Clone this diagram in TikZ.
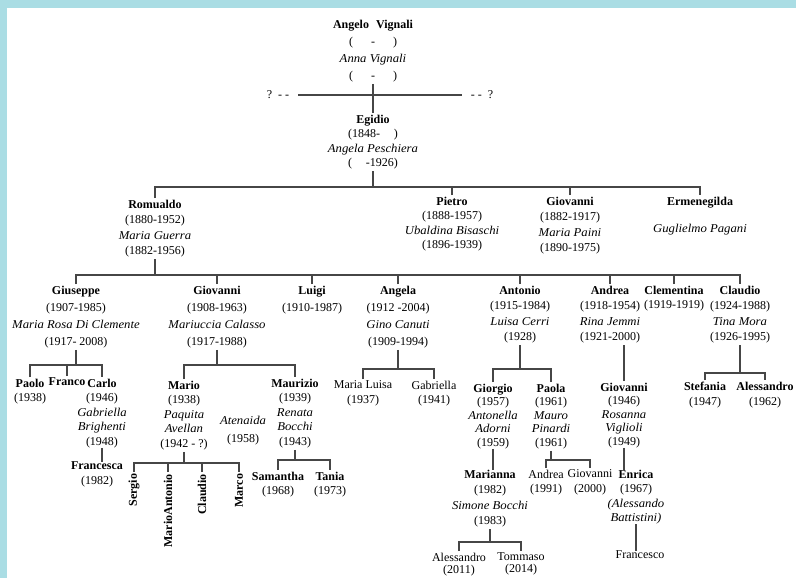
\documentclass[tikz,border=0pt]{standalone}
\usepackage{fontspec}
\setmainfont{Liberation Serif}
\newfontfamily\spousefont[FakeStretch=1.06]{Liberation Serif}
\definecolor{framebg}{RGB}{170,221,228}
\definecolor{treeline}{RGB}{70,70,70}
\newcommand{\nm}[1]{\textbf{#1}}
\newcommand{\spouse}[1]{{\spousefont\itshape #1}}
\tikzset{
  person/.style={align=center, anchor=north, inner sep=0pt, outer sep=2pt, font=\fontsize{12}{14.5}\selectfont},
  tall/.style={font=\fontsize{12}{17}\selectfont},
  mid/.style={font=\fontsize{12}{15.5}\selectfont},
  tight/.style={font=\fontsize{12}{13.5}\selectfont},
  upright/.style={rotate=90, anchor=east, inner sep=0pt, outer sep=2pt, font=\fontsize{12}{14}\selectfont\bfseries},
  unknown/.style={inner sep=0pt, outer sep=9pt, font=\fontsize{12}{14}\selectfont},
  tree/.style={draw=treeline, line width=1.3pt},
  link/.style={tree, shorten <=-2pt, shorten >=-2pt},
}
\begin{document}
\begin{tikzpicture}[x=1pt, y=-1pt]
    \useasboundingbox (0,0) rectangle (796,578);
    % Frame
    \fill[framebg] (0,0) rectangle (796,8);
    \fill[framebg] (0,0) rectangle (7,578);

    % First couple
    \node[person, tall] (vignali) at (373,18) {\nm{Angelo\hspace{7pt}Vignali}\\(\hspace{18pt}-\hspace{18pt})\\\spouse{Anna Vignali}\\(\hspace{18pt}-\hspace{18pt})};
    \node[unknown] (qleft) at (278,95) {?\ \ -\ -};
    \node[unknown] (qright) at (482,95) {-\ -\ \ ?};
    \draw[tree] (qleft) -- (qright);

    % Egidio
    \node[person] (egidio) at (373,113) {\nm{Egidio}\\(1848-\hspace{14pt})\\\spouse{Angela Peschiera}\\(\hspace{14pt}-1926)};
    \draw[tree] (vignali.south) -- (egidio.north);
    \coordinate (egbus) at (373,187);
    \draw[tree] (egidio.south) -- (egbus);

    % Children of Egidio
    \node[person, mid] (romualdo) at (155,198) {\nm{Romualdo}\\(1880-1952)\\\spouse{Maria Guerra}\\(1882-1956)};
    \node[person] (pietro) at (452,195) {\nm{Pietro}\\(1888-1957)\\\spouse{Ubaldina Bisaschi}\\(1896-1939)};
    \node[person, mid] (giovanni1) at (570,195) {\nm{Giovanni}\\(1882-1917)\\\spouse{Maria Paini}\\(1890-1975)};
    \node[person] (ermenegilda) at (700,195) {\nm{Ermenegilda}\\[13pt]\spouse{Guglielmo Pagani}};
    \draw[tree] (romualdo.north) |- (egbus) -| (ermenegilda.north);
    \foreach \n in {pietro, giovanni1}
        \draw[tree] (\n.north) -- (\n.north |- egbus);

    % Children of Romualdo
    \coordinate (robus) at (155,275);
    \draw[tree] (romualdo.south) -- (robus);
    \node[person, tall] (giuseppe) at (76,284) {\nm{Giuseppe}\\(1907-1985)\\\spouse{Maria Rosa Di Clemente}\\(1917- 2008)};
    \node[person, tall] (giovanni2) at (217,284) {\nm{Giovanni}\\(1908-1963)\\\spouse{Mariuccia Calasso}\\(1917-1988)};
    \node[person, tall] (luigi) at (312,284) {\nm{Luigi}\\(1910-1987)};
    \node[person, tall] (angela) at (398,284) {\nm{Angela}\\(1912 -2004)\\\spouse{Gino Canuti}\\(1909-1994)};
    \node[person, mid] (antonio) at (520,284) {\nm{Antonio}\\(1915-1984)\\\spouse{Luisa Cerri}\\(1928)};
    \node[person, mid] (andrea) at (610,284) {\nm{Andrea}\\(1918-1954)\\\spouse{Rina Jemmi}\\(1921-2000)};
    \node[person] (clementina) at (674,284) {\nm{Clementina}\\(1919-1919)};
    \node[person, mid] (claudio) at (740,284) {\nm{Claudio}\\(1924-1988)\\\spouse{Tina Mora}\\(1926-1995)};
    \draw[tree] (giuseppe.north) |- (robus) -| (claudio.north);
    \foreach \n in {giovanni2, luigi, angela, antonio, andrea, clementina}
        \draw[tree] (\n.north) -- (\n.north |- robus);

    % Giuseppe
    \coordinate (gsbus) at (76,365);
    \draw[tree] (giuseppe.south) -- (gsbus);
    \node[person] (paolo) at (30,377) {\nm{Paolo}\\(1938)};
    \node[person] (franco) at (67,376) {\nm{Franco}};
    \node[person] (carlo) at (102,377) {\nm{Carlo}\\(1946)\\\spouse{Gabriella}\\\spouse{Brighenti}\\(1948)};
    \draw[tree] (paolo.north) |- (gsbus) -| (carlo.north);
    \draw[tree] (franco.north) -- (franco.north |- gsbus);
    \node[person] (francesca) at (97,460) {\nm{Francesca}\\(1982)};
    \draw[link] (carlo.south) -- (carlo.south |- francesca.north);

    % Giovanni
    \coordinate (gvbus) at (217,365);
    \draw[tree] (giovanni2.south) -- (gvbus);
    \node[person] (mario) at (184,379) {\nm{Mario}\\(1938)\\\spouse{Paquita}\\\spouse{Avellan}\\(1942 - ?)};
    \node[person] (atenaida) at (243,414) {\spouse{Atenaida}\\[4pt](1958)};
    \node[person] (maurizio) at (295,377) {\nm{Maurizio}\\(1939)\\\spouse{Renata}\\\spouse{Bocchi}\\(1943)};
    \draw[tree] (mario.north) |- (gvbus) -| (maurizio.north);

    % Mario
    \coordinate (mabus) at (184,463);
    \draw[tree] (mario.south) -- (mabus);
    \node[upright] (sergio) at (134,472) {Sergio};
    \node[upright] (marioantonio) at (168,472) {MarioAntonio};
    \node[upright] (claudio2) at (202,472) {Claudio};
    \node[upright] (marco) at (239,472) {Marco};
    \draw[tree] (sergio.east) |- (mabus) -| (marco.east);
    \foreach \n in {marioantonio, claudio2}
        \draw[tree] (\n.east) -- (\n.east |- mabus);

    % Maurizio
    \coordinate (mzbus) at (295,460);
    \draw[tree] (maurizio.south) -- (mzbus);
    \node[person] (samantha) at (278,470) {\nm{Samantha}\\(1968)};
    \node[person] (tania) at (330,470) {\nm{Tania}\\(1973)};
    \draw[tree] (samantha.north) |- (mzbus) -| (tania.north);

    % Angela
    \coordinate (anbus) at (398,369);
    \draw[tree] (angela.south) -- (anbus);
    \node[person] (marialuisa) at (363,379) {Maria Luisa\\(1937)};
    \node[person] (gabriella) at (434,379) {Gabriella\\(1941)};
    \draw[tree] (marialuisa.north) |- (anbus) -| (gabriella.north);

    % Antonio
    \coordinate (atbus) at (520,369);
    \draw[tree] (antonio.south) -- (atbus);
    \node[person, tight] (giorgio) at (493,382) {\nm{Giorgio}\\(1957)\\\spouse{Antonella}\\\spouse{Adorni}\\(1959)};
    \node[person, tight] (paola) at (551,382) {\nm{Paola}\\(1961)\\\spouse{Mauro}\\\spouse{Pinardi}\\(1961)};
    \draw[tree] (giorgio.north) |- (atbus) -| (paola.north);

    % Giorgio
    \node[person, mid] (marianna) at (490,468) {\nm{Marianna}\\(1982)\\\spouse{Simone Bocchi}\\(1983)};
    \draw[link] (giorgio.south) -- (giorgio.south |- marianna.north);
    \coordinate (mrbus) at (490,542);
    \draw[tree] (marianna.south) -- (mrbus);
    \node[person, font=\fontsize{12}{12}\selectfont] (alessandro1) at (459,551) {Alessandro\\(2011)};
    \node[person, font=\fontsize{12}{12}\selectfont] (tommaso) at (521,551) {Tommaso\\(2014)};
    \draw[tree] (alessandro1.north) |- (mrbus) -| (tommaso.north);

    % Paola
    \coordinate (pabus) at (551,460);
    \draw[tree] (paola.south) -- (pabus);
    \node[person] (andrea2) at (546,468) {Andrea\\(1991)};
    \node[person] (giovanni4) at (590,468) {Giovanni\\(2000)};
    \draw[tree] (andrea2.north) |- (pabus) -| (giovanni4.north);

    % Andrea
    \node[person, tight] (giovanni3) at (624,381) {\nm{Giovanni}\\(1946)\\\spouse{Rosanna}\\\spouse{Viglioli}\\(1949)};
    \draw[tree] (giovanni3.north) -- (giovanni3.north |- andrea.south);
    \node[person] (enrica) at (636,468) {\nm{Enrica}\\(1967)\\\spouse{(Alessando}\\\spouse{Battistini)}};
    \draw[link] (giovanni3.south) -- (giovanni3.south |- enrica.north);
    \node[person] (francesco) at (640,549) {Francesco};
    \draw[link] (enrica.south) -- (enrica.south |- francesco.north);

    % Claudio
    \coordinate (clbus) at (740,373);
    \draw[tree] (claudio.south) -- (clbus);
    \node[person, mid] (stefania) at (705,380) {\nm{Stefania}\\(1947)};
    \node[person, mid] (alessandro2) at (765,380) {\nm{Alessandro}\\(1962)};
    \draw[tree] (stefania.north) |- (clbus) -| (alessandro2.north);
\end{tikzpicture}
\end{document}
